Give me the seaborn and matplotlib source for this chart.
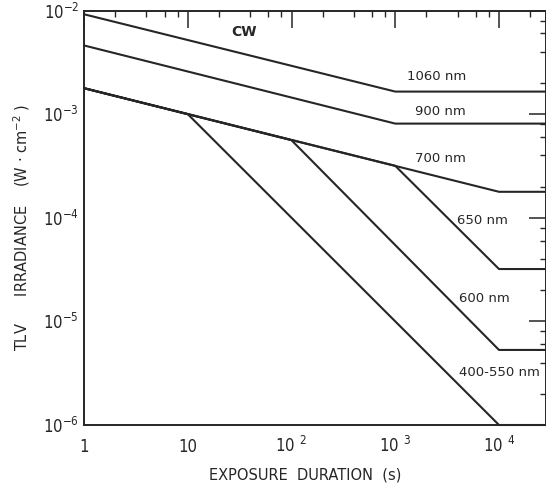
import numpy as np
import pandas as pd
import matplotlib
matplotlib.use("Agg")
import matplotlib.pyplot as plt
from matplotlib import font_manager
from matplotlib.ticker import LogLocator, NullFormatter
import seaborn as sns

# Threshold limit values of irradiance vs exposure duration, per wavelength band
bands = ["1060 nm", "900 nm", "700 nm", "650 nm", "600 nm", "400-550 nm"]

dur_1060 = [1, 1e3, 3e4]
irr_1060 = [9.2e-3, 1.65e-3, 1.65e-3]

dur_900 = [1, 1e3, 3e4]
irr_900 = [4.6e-3, 8.1e-4, 8.1e-4]

dur_700 = [1, 1e4, 3e4]
irr_700 = [1.78e-3, 1.78e-4, 1.78e-4]

dur_650 = [1, 1e3, 1e4, 3e4]
irr_650 = [1.78e-3, 3.17e-4, 3.2e-5, 3.2e-5]

dur_600 = [1, 1e2, 1e4, 3e4]
irr_600 = [1.78e-3, 5.6e-4, 5.3e-6, 5.3e-6]

dur_400_550 = [1, 10, 1e4, 3e4]
irr_400_550 = [1.78e-3, 1.0e-3, 1.0e-6, 1.0e-6]

x_ticks = [1, 10, 1e2, 1e3, 1e4]
x_tick_labels = ["1", "10", r"$\mathregular{10\ ^{2}}$",
                 r"$\mathregular{10\ ^{3}}$", r"$\mathregular{10\ ^{4}}$"]
y_ticks = [1e-6, 1e-5, 1e-4, 1e-3, 1e-2]
y_tick_labels = [r"$\mathregular{10^{-6}}$", r"$\mathregular{10^{-5}}$",
                 r"$\mathregular{10^{-4}}$", r"$\mathregular{10^{-3}}$",
                 r"$\mathregular{10^{-2}}$"]

series = {
    "1060 nm": (dur_1060, irr_1060),
    "900 nm": (dur_900, irr_900),
    "700 nm": (dur_700, irr_700),
    "650 nm": (dur_650, irr_650),
    "600 nm": (dur_600, irr_600),
    "400-550 nm": (dur_400_550, irr_400_550),
}
df = pd.concat(
    [pd.DataFrame({"duration": d, "irradiance": e, "band": b})
     for b, (d, e) in series.items()],
    ignore_index=True,
)

# label anchor positions (duration, irradiance)
label_pos = {
    "1060 nm": (2520, 2.33e-3),
    "900 nm": (2700, 1.05e-3),
    "700 nm": (2700, 3.69e-4),
    "650 nm": (7000, 9.5e-5),
    "600 nm": (7170, 1.68e-5),
    "400-550 nm": (1.0e4, 3.24e-6),
}


def narrow_font():
    """Return FontProperties kwargs for a narrow sans face if one is installed."""
    candidates = [
        dict(family="Liberation Sans Narrow"),
        dict(family="DejaVu Sans", stretch="condensed"),
        dict(family="Roboto Condensed"),
        dict(family="Open Sans", stretch="condensed"),
    ]
    for c in candidates:
        try:
            path = font_manager.findfont(font_manager.FontProperties(**c),
                                         fallback_to_default=False)
        except ValueError:
            continue
        name = path.lower()
        if "narrow" in name or "condensed" in name:
            return c, True
    return dict(family="DejaVu Sans"), False


sns.set_style("white")
plt.rcParams["font.family"] = ["DejaVu Sans"]
tick_kw, is_narrow = narrow_font()
tick_size = 12 if is_narrow else 10.5

ink = "#262626"
fig = plt.figure(figsize=(5.46, 4.86), dpi=100)
ax = fig.add_axes([84 / 546, 1 - 425 / 486, (546 - 84) / 546, (425 - 10.5) / 486])
ax.set_xscale("log")
ax.set_yscale("log")

sns.lineplot(data=df, x="duration", y="irradiance", hue="band", units="band",
             estimator=None, sort=False, palette={b: ink for b in bands},
             legend=False, linewidth=1.5, ax=ax)
for ln in ax.lines:
    ln.set_clip_on(False)

ax.set_xlim(1, 10 ** ((546 - 84) / 103.75))
ax.set_ylim(1e-6, 1e-2)

for s in ax.spines.values():
    s.set_visible(True)
    s.set_color(ink)
    s.set_linewidth(1.4)

ax.xaxis.set_minor_locator(LogLocator(base=10, subs=[2, 4, 6, 8]))
ax.yaxis.set_minor_locator(LogLocator(base=10, subs=[2, 4, 6, 8]))
ax.xaxis.set_minor_formatter(NullFormatter())
ax.yaxis.set_minor_formatter(NullFormatter())

ax.set_xticks(x_ticks, labels=x_tick_labels, va="baseline",
              fontproperties=font_manager.FontProperties(size=tick_size, **tick_kw))
ax.set_yticks(y_ticks, labels=y_tick_labels,
              fontproperties=font_manager.FontProperties(size=tick_size, **tick_kw))
ax.tick_params(which="major", direction="in", length=12, width=1.1, color=ink,
               top=True, right=True, labelcolor=ink)
ax.tick_params(axis="x", which="major", pad=19.4)
ax.tick_params(axis="y", which="major", pad=3.5)
ax.tick_params(which="minor", direction="in", length=4, width=1.0, color=ink,
               top=True, right=True)

ax.set_xlabel("")
ax.set_ylabel("")

for b in bands:
    x, y = label_pos[b]
    ax.text(x, y, b, ha="center", va="center", fontsize=9.5, color=ink)
ax.text(34.8, 6.2e-3, "CW", ha="center", va="center", fontsize=10,
        fontweight="bold", color=ink)

fig.text(305 / 546, 1 - 475 / 486, "EXPOSURE  DURATION  (s)", ha="center",
         va="center", fontsize=10.5, color=ink)
fig.text(22 / 546, 1 - 227 / 486, "TLV      IRRADIANCE    (W · cm$^{-2}$ )",
         ha="center", va="center", rotation=90, fontsize=10.5, color=ink)

fig.savefig("out.png", dpi=100)
